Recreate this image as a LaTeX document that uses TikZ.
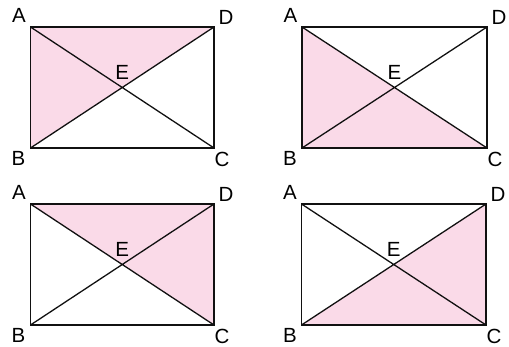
\documentclass[tikz,border=0pt]{standalone}
\usepackage{fontspec}
\setmainfont{Liberation Sans}
\usetikzlibrary{calc}
\definecolor{rectpink}{HTML}{FADAE8}
\definecolor{rectline}{HTML}{111111}

\begin{document}
\begin{tikzpicture}[
        x=1pt, y=-1pt,
        every node/.style={font=\fontsize{20.5}{20.5}\selectfont, inner sep=0pt},
        side/.style={draw=rectline, line width=1.7pt, line join=miter},
        diag/.style={draw=rectline, line width=1.3pt},
        part/.style={fill=rectpink},
      ]
      \useasboundingbox (0,0) rectangle (509,347);

      % top left: triangle ABD
      \coordinate (a1) at (30.5,27);  \coordinate (d1) at (214,27);
      \coordinate (b1) at (30.5,148); \coordinate (c1) at (214,148);
      \coordinate (e1) at ($(a1)!0.5!(c1)$);
      \fill[part] (a1) -- (b1) -- (d1) -- cycle;
      \draw[diag] (a1) -- (c1) (b1) -- (d1);
      \draw[side] (a1) -- (b1) -- (c1) -- (d1) -- cycle;
      \node (la1) at (19,15.5)  {A};
      \node (ld1) at (226,17)   {D};
      \node (lb1) at (18.5,158) {B};
      \node (lc1) at (222,159.5){C};
      \node (le1) at ($(e1)+(0,-15.5)$) {E};

      % top right: triangle ABC
      \coordinate (a2) at (302,27);  \coordinate (d2) at (487,27);
      \coordinate (b2) at (302,148); \coordinate (c2) at (487,148);
      \coordinate (e2) at ($(a2)!0.5!(c2)$);
      \fill[part] (a2) -- (b2) -- (c2) -- cycle;
      \draw[diag] (a2) -- (c2) (b2) -- (d2);
      \draw[side] (a2) -- (b2) -- (c2) -- (d2) -- cycle;
      \node (la2) at (290.5,15.5) {A};
      \node (ld2) at (499,17)     {D};
      \node (lb2) at (290,158)    {B};
      \node (lc2) at (495,159.5)  {C};
      \node (le2) at ($(e2)+(0,-15.5)$) {E};

      % bottom left: triangle ACD
      \coordinate (a3) at (30.5,204); \coordinate (d3) at (214,204);
      \coordinate (b3) at (30.5,325); \coordinate (c3) at (214,325);
      \coordinate (e3) at ($(a3)!0.5!(c3)$);
      \fill[part] (a3) -- (c3) -- (d3) -- cycle;
      \draw[diag] (a3) -- (c3) (b3) -- (d3);
      \draw[side] (a3) -- (b3) -- (c3) -- (d3) -- cycle;
      \node (la3) at (19,192.5)  {A};
      \node (ld3) at (226,194)   {D};
      \node (lb3) at (18.5,335)  {B};
      \node (lc3) at (222,336.5) {C};
      \node (le3) at ($(e3)+(0,-15.5)$) {E};

      % bottom right: triangle BCD
      \coordinate (a4) at (301.5,204); \coordinate (d4) at (486,204);
      \coordinate (b4) at (301.5,325); \coordinate (c4) at (486,325);
      \coordinate (e4) at ($(a4)!0.5!(c4)$);
      \fill[part] (b4) -- (c4) -- (d4) -- cycle;
      \draw[diag] (a4) -- (c4) (b4) -- (d4);
      \draw[side] (a4) -- (b4) -- (c4) -- (d4) -- cycle;
      \node (la4) at (290,192.5)  {A};
      \node (ld4) at (498,194)    {D};
      \node (lb4) at (290,335)    {B};
      \node (lc4) at (494,336.5)  {C};
      \node (le4) at ($(e4)+(0,-15.5)$) {E};
    \end{tikzpicture}
\end{document}
